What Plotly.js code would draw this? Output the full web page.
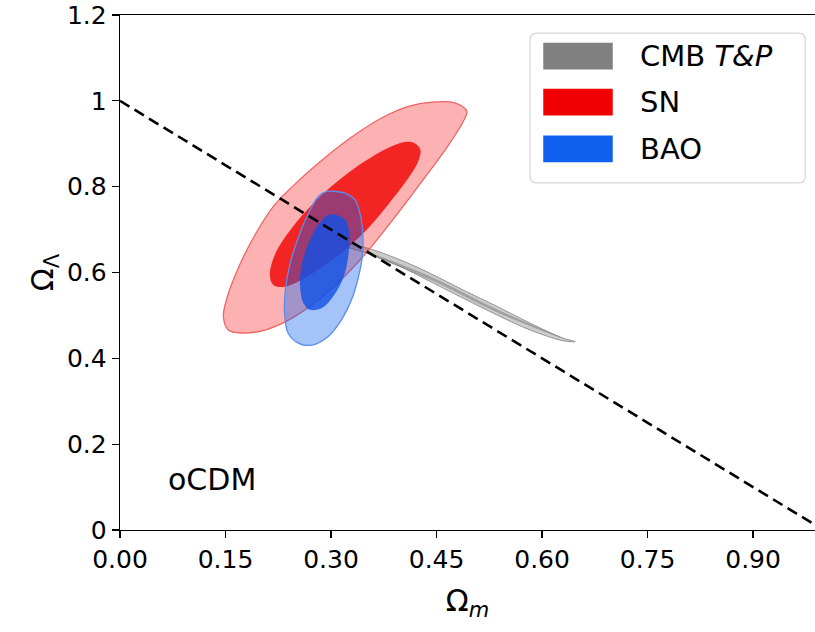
<!DOCTYPE html>
<html>
<head>
<meta charset="utf-8">
<script src="https://cdn.plot.ly/plotly-3.0.1.min.js"></script>
<style>html,body{margin:0;padding:0;background:#fff;}#chart{width:815px;height:632px;}</style>
</head>
<body>
<div id="chart"></div>
<script>
// ---- data ----
const seriesNames = ["CMB <i>T&P</i>", "SN", "BAO"];

const cmbOuterX = [0.320, 0.351, 0.393, 0.441, 0.488, 0.536, 0.583, 0.630, 0.647, 0.630, 0.583, 0.536, 0.488, 0.441, 0.393, 0.351, 0.320];
const cmbOuterY = [0.667, 0.657, 0.633, 0.598, 0.559, 0.521, 0.482, 0.447, 0.439, 0.441, 0.466, 0.501, 0.540, 0.579, 0.618, 0.645, 0.660];

const cmbInnerX = [0.355, 0.441, 0.536, 0.626, 0.536, 0.441, 0.355];
const cmbInnerY = [0.646, 0.590, 0.513, 0.449, 0.508, 0.584, 0.641];

const snOuterX = [0.493, 0.476, 0.443, 0.410, 0.372, 0.334, 0.296, 0.258, 0.220, 0.192, 0.168, 0.152, 0.147, 0.154, 0.173, 0.206, 0.244, 0.291, 0.339, 0.386, 0.429, 0.467, 0.488, 0.493];
const snOuterY = [0.975, 0.995, 0.997, 0.987, 0.960, 0.921, 0.874, 0.820, 0.758, 0.688, 0.610, 0.540, 0.497, 0.466, 0.459, 0.466, 0.493, 0.548, 0.625, 0.719, 0.812, 0.897, 0.952, 0.975];

const snInnerX = [0.427, 0.419, 0.405, 0.381, 0.348, 0.315, 0.277, 0.244, 0.220, 0.213, 0.218, 0.235, 0.296, 0.348, 0.381, 0.410, 0.424, 0.427];
const snInnerY = [0.886, 0.901, 0.904, 0.890, 0.859, 0.820, 0.765, 0.703, 0.641, 0.594, 0.571, 0.567, 0.622, 0.695, 0.758, 0.820, 0.859, 0.886];

const baoOuterX = [0.306, 0.320, 0.334, 0.341, 0.345, 0.345, 0.339, 0.329, 0.315, 0.296, 0.273, 0.254, 0.239, 0.234, 0.235, 0.242, 0.254, 0.268, 0.282, 0.294, 0.306];
const baoOuterY = [0.789, 0.785, 0.769, 0.738, 0.692, 0.645, 0.590, 0.536, 0.490, 0.451, 0.431, 0.435, 0.459, 0.505, 0.559, 0.622, 0.684, 0.738, 0.777, 0.789, 0.789];

const baoInnerX = [0.308, 0.320, 0.326, 0.325, 0.318, 0.303, 0.287, 0.270, 0.261, 0.256, 0.258, 0.268, 0.282, 0.296, 0.308];
const baoInnerY = [0.734, 0.723, 0.692, 0.645, 0.590, 0.544, 0.517, 0.513, 0.528, 0.567, 0.614, 0.668, 0.711, 0.734, 0.734];

const flatX = [0, 1];
const flatY = [1, 0];

const xTickVals = [0, 0.15, 0.30, 0.45, 0.60, 0.75, 0.90];
const yTickVals = [0, 0.2, 0.4, 0.6, 0.8, 1.0, 1.2];
const modelLabel = "oCDM";
const modelPos = [0.131, 0.117];

// ---- styles ----
const FONT = "DejaVu Sans";
const legendColors = ["#808080", "#f00000", "#1060f0"];

function contour(x, y, fill, line, lw) {
  return {x: x, y: y, type: "scatter", mode: "lines", fill: "toself",
    fillcolor: fill, line: {color: line, width: lw, shape: "spline", smoothing: 1},
    hoverinfo: "skip", showlegend: false};
}

const traces = [
  contour(cmbOuterX, cmbOuterY, "rgba(128,128,128,0.40)", "rgba(140,140,140,0.9)", 1),
  contour(cmbInnerX, cmbInnerY, "rgba(128,128,128,0.55)", "rgba(128,128,128,0.5)", 0.6),
  contour(snOuterX, snOuterY, "rgba(245,0,0,0.30)", "rgba(240,100,100,1)", 1.3),
  contour(snInnerX, snInnerY, "rgba(240,0,0,0.80)", "rgba(240,0,0,0)", 0),
  contour(baoOuterX, baoOuterY, "rgba(16,96,240,0.38)", "rgba(90,140,240,1)", 1.3),
  contour(baoInnerX, baoInnerY, "rgba(16,80,230,0.80)", "rgba(16,80,230,0)", 0),
  {x: flatX, y: flatY, type: "scatter", mode: "lines",
   line: {color: "#000", width: 2.6, dash: "11px,6px"}, hoverinfo: "skip", showlegend: false}
];
traces.forEach((t, i) => { t.name = ["CMB", "CMB", "SN", "SN", "BAO", "BAO", "flat"][i]; });

// legend drawn as layout decoration (paper coords)
const shapes = [{type: "path", xref: "paper", yref: "paper",
  path: "M0.600,0.965 L0.976,0.965 Q0.986,0.965 0.986,0.952 L0.986,0.687 Q0.986,0.674 0.976,0.674 L0.600,0.674 Q0.590,0.674 0.590,0.687 L0.590,0.952 Q0.590,0.965 0.600,0.965 Z",
  fillcolor: "rgba(255,255,255,0.85)", line: {color: "#d8d8d8", width: 1.3}}];
const annotations = [];
const rowY = [0.920, 0.831, 0.740];
for (let i = 0; i < seriesNames.length; i++) {
  shapes.push({type: "rect", xref: "paper", yref: "paper",
    x0: 0.609, x1: 0.709, y0: rowY[i] - 0.026, y1: rowY[i] + 0.026,
    fillcolor: legendColors[i], line: {width: 0}});
  annotations.push({xref: "paper", yref: "paper", x: 0.745, y: rowY[i],
    xanchor: "left", yanchor: "middle", showarrow: false, text: seriesNames[i],
    font: {family: FONT, size: 29, color: "#000"}});
}
annotations.push({x: modelPos[0], y: modelPos[1], xref: "x", yref: "y",
  text: modelLabel, showarrow: false, font: {family: FONT, size: 30, color: "#000"}});

const layout = {
  width: 815, height: 632,
  margin: {l: 120, r: 0, t: 15, b: 102},
  paper_bgcolor: "#fff", plot_bgcolor: "#fff",
  showlegend: false,
  font: {family: FONT, color: "#000"},
  xaxis: {range: [0, 0.988], tickvals: xTickVals, tickformat: ".2f",
    showgrid: false, zeroline: false, showline: true, linecolor: "#000", linewidth: 1.3,
    mirror: true, ticks: "outside", ticklen: 7, tickwidth: 1.3, tickcolor: "#000",
    tickfont: {family: FONT, size: 25, color: "#000"},
    title: {text: "Ω<sub><i>m</i></sub>", font: {family: FONT, size: 30, color: "#000"}, standoff: 16}},
  yaxis: {range: [0, 1.2], tickvals: yTickVals,
    showgrid: false, zeroline: false, showline: true, linecolor: "#000", linewidth: 1.3,
    ticks: "outside", ticklen: 7, tickwidth: 1.3, tickcolor: "#000",
    tickfont: {family: FONT, size: 25, color: "#000"},
    title: {text: "Ω<sub>Λ</sub>", font: {family: FONT, size: 30, color: "#000"}, standoff: 4}},
  shapes: shapes, annotations: annotations
};

Plotly.newPlot("chart", traces, layout, {staticPlot: true, displayModeBar: false});
</script>
</body>
</html>
